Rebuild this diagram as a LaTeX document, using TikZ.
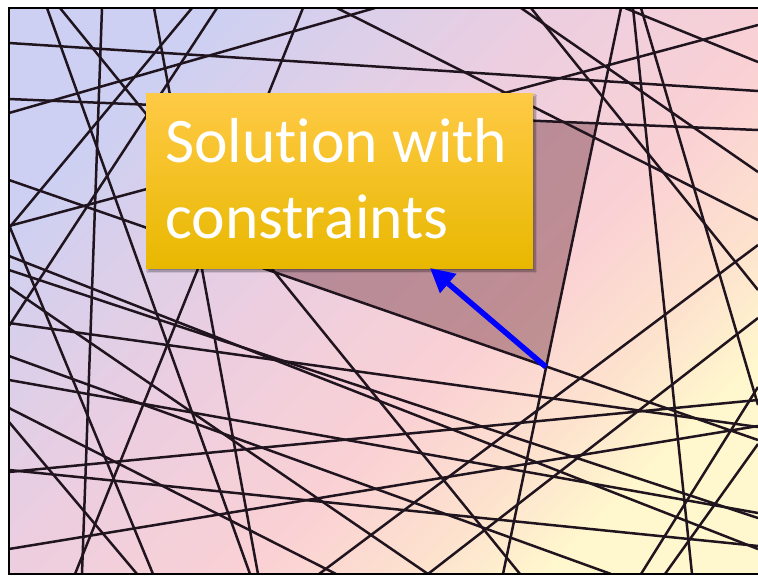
\documentclass[tikz,border=0pt]{standalone}
\usepackage{fontspec}
\newfontfamily\calfont[Ligatures=NoCommon]{Carlito}
\usetikzlibrary{arrows.meta,shadows.blur}
\definecolor{bgtl}{RGB}{205,208,242}
\definecolor{bglav}{RGB}{236,206,224}
\definecolor{bgpink}{RGB}{250,209,212}
\definecolor{bgwarm}{RGB}{253,226,206}
\definecolor{bgbr}{RGB}{255,247,205}
\definecolor{linecol}{RGB}{32,20,30}
\definecolor{regionfill}{RGB}{120,60,70}
\definecolor{boxtop}{RGB}{255,202,70}
\definecolor{boxmid}{RGB}{255,195,0}
\definecolor{boxbot}{RGB}{232,184,0}
% background wash, listed from the lower right corner up to the upper left one
\pgfdeclareverticalshading{bgwash}{100bp}{color(0bp)=(bgbr); color(26bp)=(bgbr);
  color(33bp)=(bgwarm); color(42bp)=(bgpink); color(56bp)=(bglav);
  color(74bp)=(bgtl); color(100bp)=(bgtl)}
\tikzset{
  constraint/.style={line width=2.5pt, draw=linecol},
  frameline/.style={line width=2pt, draw=black},
  feasible/.style={fill=regionfill, fill opacity=0.45},
  callout/.style={rectangle, inner sep=0pt, minimum width=387pt, minimum height=175pt,
    top color=boxtop, middle color=boxmid, bottom color=boxbot,
    blur shadow={shadow xshift=2pt, shadow yshift=-3pt, shadow blur steps=8, shadow opacity=45}},
  calloutText/.style={text=white, inner sep=0pt, font=\calfont\fontsize{63.5}{76}\selectfont},
  pointer/.style={draw=blue, line width=5.5pt, -{Triangle[length=24pt,width=24pt]}}
}
\begin{document}
\begin{tikzpicture}[x=1pt,y=-1pt]
\useasboundingbox (0,0) rectangle (758,576);
\fill[white] (0,0) rectangle (758,576);
\shade[shading=bgwash, shading angle=45] (9,8) rectangle (758,574);

% feasible region (its upper left part lies under the callout)
\fill[feasible] (597,124) -- (546,367) -- (240,260) -- (240,109) -- cycle;

% constraint lines
\begin{scope}
\clip (9,8) rectangle (758,574);
\draw[constraint] (9,43) -- (758,91);
\draw[constraint] (9,99) -- (758,130);
\draw[constraint] (9,180) -- (758,440);
\draw[constraint] (621,8) -- (503,574);
\draw[constraint] (47,8) -- (250,574);
\draw[constraint] (60,8) -- (520,574);
\draw[constraint] (102,8) -- (82,574);
\draw[constraint] (154,8) -- (258,574);
\draw[constraint] (192,8) -- (9,228);
\draw[constraint] (217,8) -- (9,326);
\draw[constraint] (303,8) -- (75,574);
\draw[constraint] (337,8) -- (758,220);
\draw[constraint] (9,113) -- (375,8);
\draw[constraint] (521,8) -- (758,172);
\draw[constraint] (531,8) -- (758,290);
\draw[constraint] (633,8) -- (692,574);
\draw[constraint] (641,8) -- (758,405);
\draw[constraint] (625,8) -- (758,62);
\draw[constraint] (9,226) -- (758,25);
\draw[constraint] (319,574) -- (758,245);
\draw[constraint] (428,574) -- (758,318);
\draw[constraint] (9,287) -- (428,574);
\draw[constraint] (9,256) -- (758,549);
\draw[constraint] (9,270) -- (758,518);
\draw[constraint] (641,574) -- (758,387);
\draw[constraint] (665,574) -- (758,444);
\draw[constraint] (9,422) -- (137,574);
\draw[constraint] (9,225) -- (153,574);
\draw[constraint] (9,408) -- (336,574);
\draw[constraint] (9,356) -- (611,574);
\draw[constraint] (9,323) -- (758,427);
\draw[constraint] (9,472) -- (758,400);
\draw[constraint] (9,549) -- (758,426);
\draw[constraint] (9,470) -- (758,546);
\draw[constraint] (9,380) -- (758,513);
\end{scope}

% frame
\draw[frameline] (758,8) -- (9,8) -- (9,574) -- (758,574);

% callout
\node[callout] (box) at (339.5,180.5) {};
\node[calloutText, anchor=base west] (line1) at (165,162) {Solution with};
\node[calloutText, anchor=base west] (line2) at (165,238) {constraints};

% arrow from the optimal vertex to the callout
\coordinate (vertex) at (546,367);
\coordinate (tip) at (430,268);
\draw[pointer] (vertex) -- (tip);
\end{tikzpicture}
\end{document}
